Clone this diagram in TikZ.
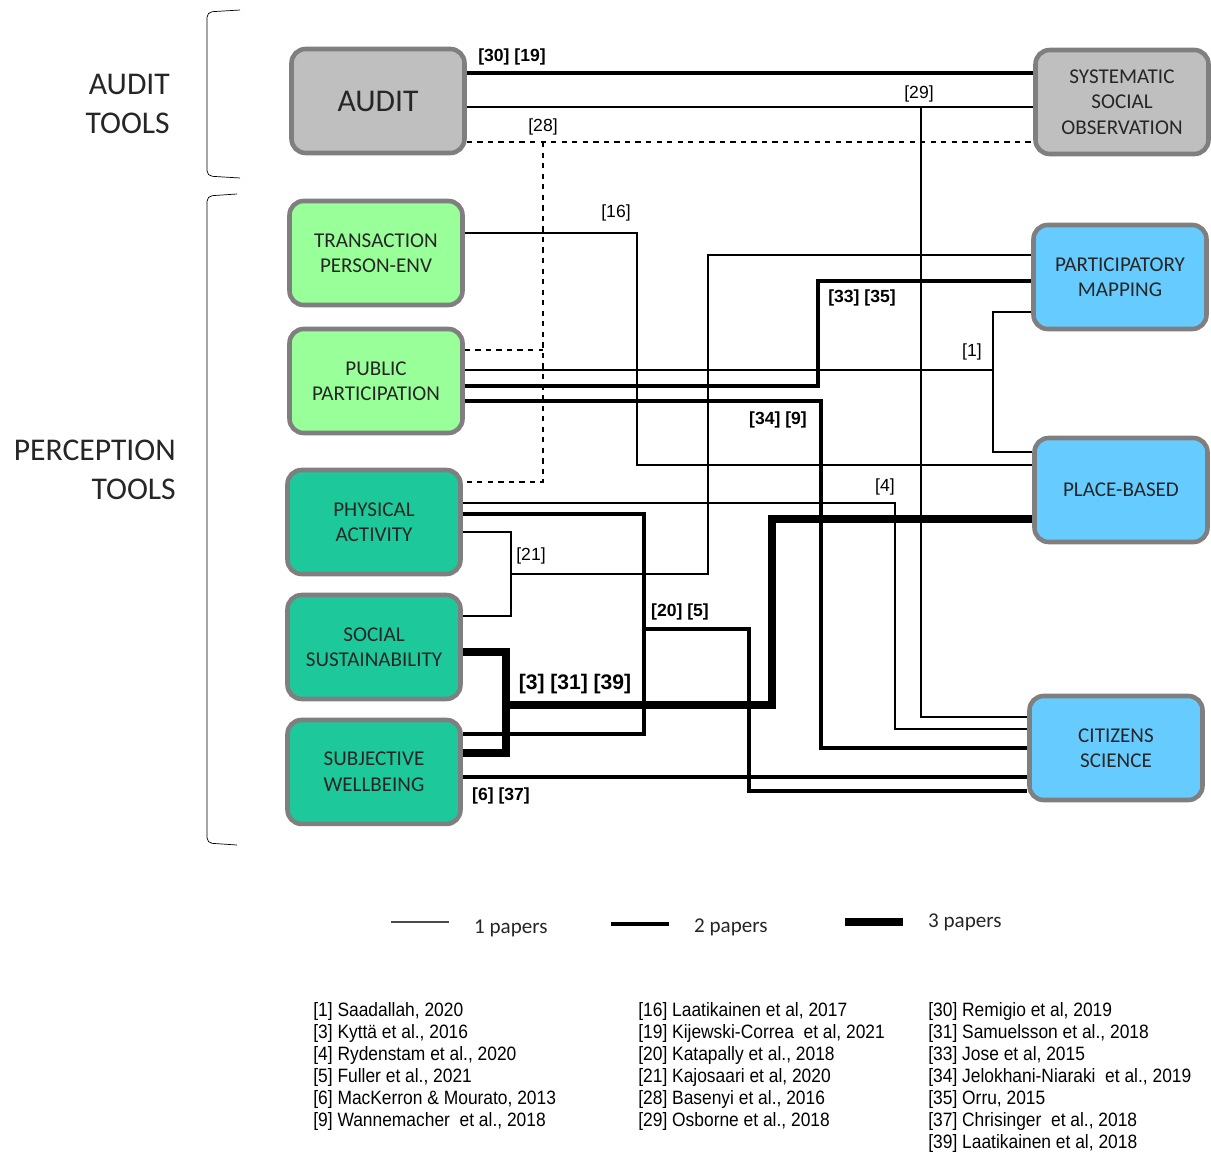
\documentclass[tikz,border=0pt]{standalone}
\usepackage{fontspec}
\setmainfont{Carlito}
\newfontfamily\labelfont{Liberation Sans}
\newfontfamily\reffont{Liberation Sans}[FakeStretch=0.9]
\definecolor{auditgray}{HTML}{BFBFBF}
\definecolor{boxborder}{HTML}{7F7F7F}
\definecolor{lightgreen}{HTML}{99FF99}
\definecolor{tealgreen}{HTML}{1DC99B}
\definecolor{skyblue}{HTML}{66CCFF}

\begin{document}
\begin{tikzpicture}[x=0.02cm, y=-0.02cm, node distance=2.5cm,
  main node/.style={draw=boxborder, line width=2.6pt, rounded corners=8pt, minimum width=3.46cm, minimum height=2.08cm, inner sep=2pt, align=center, text=black!85, font=\fontsize{12}{14.5}\selectfont},
  audit node/.style={main node, fill=auditgray},
  place node/.style={main node, fill=lightgreen},
  activity node/.style={main node, fill=tealgreen},
  method node/.style={main node, fill=skyblue},
  one paper/.style={line width=0.8pt},
  two papers/.style={line width=2.3pt},
  three papers/.style={line width=4.6pt},
  cite label/.style={inner sep=1pt, font=\labelfont\fontsize{10}{12}\selectfont},
  bold cite/.style={inner sep=1pt, font=\labelfont\bfseries\fontsize{10}{12}\selectfont},
  group label/.style={align=right, anchor=east, text=black!85, font=\fontsize{18}{22}\selectfont},
  legend label/.style={anchor=west, text=black!85, font=\fontsize{12}{14}\selectfont},
  ref list/.style={anchor=north west, align=left, inner sep=0pt, font=\reffont\fontsize{11}{12.5}\selectfont}]
\useasboundingbox (0,0) rectangle (1211,1153);

\node[group label] (auditgroup)      at (176,104) {AUDIT\\TOOLS};
\node[group label] (perceptiongroup) at (182,470) {PERCEPTION\\TOOLS};
\draw[rounded corners=3pt] (240,10) -- (207,12) -- (207,176) -- (240,178);
\draw[rounded corners=3pt] (237,194) -- (207,196) -- (207,843) -- (237,845);

\node[audit node, font=\fontsize{18}{22}\selectfont] (audit) at (378,101) {AUDIT};
\node[audit node]                     (sso)         at (1122,102) {SYSTEMATIC\\SOCIAL\\OBSERVATION};
\node[place node]                     (transaction) at (376,253)  {TRANSACTION\\PERSON-ENV};
\node[place node]                     (publicpart)  at (376,381)  {PUBLIC\\PARTICIPATION};
\node[activity node]                  (physical)    at (374,522)  {PHYSICAL\\ACTIVITY};
\node[activity node, below of=physical]   (socialsust) {SOCIAL\\SUSTAINABILITY};
\node[activity node, below of=socialsust] (wellbeing)  {SUBJECTIVE\\WELLBEING};
\node[method node]                    (partmap)     at (1120,277) {PARTICIPATORY\\MAPPING};
\node[method node]                    (placebased)  at (1121,490) {PLACE-BASED};
\node[method node]                    (citizens)    at (1116,748) {CITIZENS\\SCIENCE};

% junctions of the shared links
\coordinate (j29) at (921,107);
\coordinate (j28) at (543,142);
\coordinate (j21) at (511,574);
\coordinate (j1)  at (993,370);
\coordinate (j20) at (644,629);
\coordinate (j3)  at (506,705);

\draw[two papers] (audit.east |- 0,73) -- (sso.west |- 0,73);
\draw[one paper] (audit.east |- 0,107) -- (sso.west |- 0,107);
\draw[one paper] (j29) |- (citizens.west |- 0,717);
\draw[one paper, dashed] (audit.east |- 0,142) -- (sso.west |- 0,142);
\draw[one paper, dashed] (j28) |- (physical.east |- 0,482);
\draw[one paper, dashed] (publicpart.east |- 0,350) -- (j28 |- 0,350);
\draw[one paper] (transaction.east |- 0,233) -| (637,465) -- (placebased.west |- 0,465);
\draw[one paper] (physical.east |- 0,532) -| (511,616) -- (socialsust.east |- 0,616);
\draw[one paper] (j21) -| (708,255) -- (partmap.west |- 0,255);
\draw[two papers] (publicpart.east |- 0,386) -| (818,281) -- (partmap.west |- 0,281);
\draw[one paper] (publicpart.east |- 0,370) -- (j1);
\draw[one paper] (partmap.west |- 0,312) -| (993,452) -- (placebased.west |- 0,452);
\draw[two papers] (publicpart.east |- 0,401) -| (821,748) -- (citizens.west |- 0,748);
\draw[one paper] (physical.east |- 0,503) -| (895,729) -- (citizens.west |- 0,729);
\draw[two papers] (physical.east |- 0,514) -| (644,734) -- (wellbeing.east |- 0,734);
\draw[two papers] (j20) -| (749,791) -- (citizens.west |- 0,791);
\draw[three papers] (socialsust.east |- 0,652) -| (506,753) -- (wellbeing.east |- 0,753);
\draw[three papers] (j3) -| (772,519) -- (placebased.west |- 0,519);
\draw[two papers] (wellbeing.east |- 0,777) -- (citizens.west |- 0,777);

\node[bold cite] (l3019) at (512,57)  {[30] [19]};
\node[cite label] (l29)  at (919,94)  {[29]};
\node[cite label] (l28)  at (543,127) {[28]};
\node[cite label] (l16)  at (616,213) {[16]};
\node[bold cite] (l3335) at (862,298) {[33] [35]};
\node[cite label] (l1)   at (972,352) {[1]};
\node[bold cite] (l349)  at (778,420) {[34] [9]};
\node[cite label] (l4)   at (885,487) {[4]};
\node[cite label] (l21)  at (531,556) {[21]};
\node[bold cite] (l205)  at (680,612) {[20] [5]};
\node[bold cite, font=\labelfont\bfseries\fontsize{12}{14}\selectfont] (l33139) at (575,684) {[3] [31] [39]};
\node[bold cite] (l637)  at (501,796) {[6] [37]};

% legend
\coordinate (leg1a) at (391,922); \coordinate (leg1b) at (449,922);
\coordinate (leg2a) at (611,924); \coordinate (leg2b) at (669,924);
\coordinate (leg3a) at (845,922); \coordinate (leg3b) at (903,922);
\draw[one paper, black!70] (leg1a) -- (leg1b);
\draw[two papers] (leg2a) -- (leg2b);
\draw[line width=5pt] (leg3a) -- (leg3b);
\node[legend label] (leg1) at (468,928) {1 papers};
\node[legend label] (leg2) at (688,927) {2 papers};
\node[legend label] (leg3) at (922,922) {3 papers};

\node[ref list] (refs1) at (313,1002) {[1] Saadallah, 2020\\{}[3] Kyttä et al., 2016\\{}[4] Rydenstam et al., 2020\\{}[5] Fuller et al., 2021\\{}[6] MacKerron \& Mourato, 2013\\{}[9] Wannemacher\ \ et al., 2018};
\node[ref list] (refs2) at (638,1002) {[16] Laatikainen et al, 2017\\{}[19] Kijewski-Correa\ \ et al, 2021\\{}[20] Katapally et al., 2018\\{}[21] Kajosaari et al, 2020\\{}[28] Basenyi et al., 2016\\{}[29] Osborne et al., 2018};
\node[ref list] (refs3) at (928,1002) {[30] Remigio et al, 2019\\{}[31] Samuelsson et al., 2018\\{}[33] Jose et al, 2015\\{}[34] Jelokhani-Niaraki\ \ et al., 2019\\{}[35] Orru, 2015\\{}[37] Chrisinger\ \ et al., 2018\\{}[39] Laatikainen et al, 2018};
\end{tikzpicture}
\end{document}
